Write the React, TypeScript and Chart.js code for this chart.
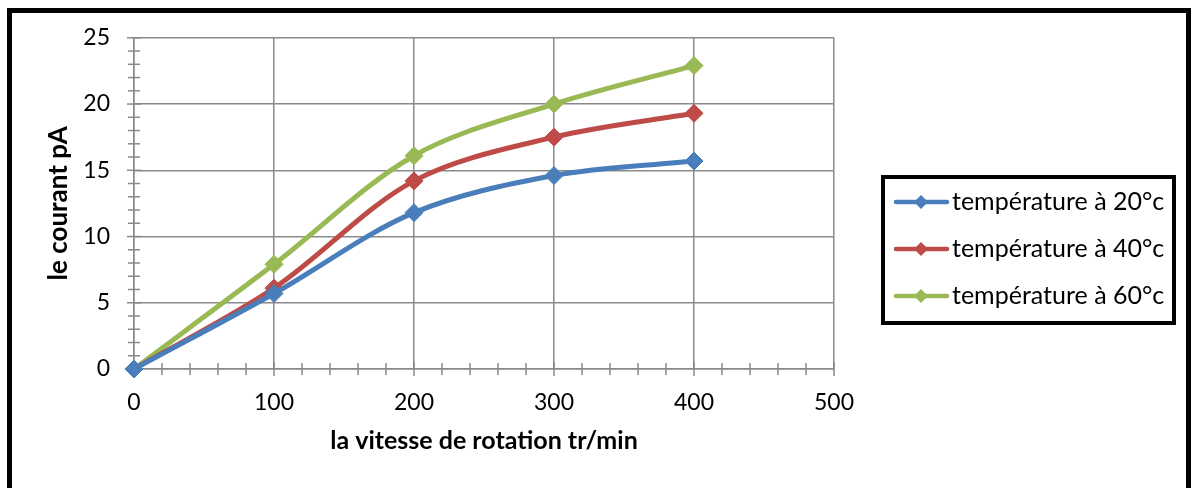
import React, { useEffect, useRef } from "react";
import { Chart, registerables } from "chart.js";

Chart.register(...registerables);

const speeds = [0, 100, 200, 300, 400];
const temp20 = [0, 5.7, 11.8, 14.6, 15.7];
const temp40 = [0, 6.1, 14.2, 17.5, 19.3];
const temp60 = [0, 7.9, 16.1, 20.0, 22.9];
const seriesLabels = ["température à 20°c", "température à 40°c", "température à 60°c"];
const seriesColors = ["#4A7EBB", "#BE4B48", "#98B954"];
const xTitle = "la vitesse de rotation tr/min";
const yTitle = "le courant pA";

const GRID = "#8a8a8a";
const FONT = "Lato";

const crossTicks = {
  id: "crossTicks",
  beforeDatasetsDraw(chart: any) {
    const { ctx, chartArea, scales } = chart;
    const xs = scales.x;
    const ys = scales.y;
    ctx.save();
    ctx.strokeStyle = GRID;
    ctx.lineWidth = 1.5;
    for (let v = 0; v <= 25; v += 1) {
      const y = ys.getPixelForValue(v);
      const l = v % 5 === 0 ? 7 : 6;
      ctx.beginPath();
      ctx.moveTo(chartArea.left - l, y);
      ctx.lineTo(chartArea.left + l, y);
      ctx.stroke();
    }
    for (let v = 0; v <= 500; v += 20) {
      const x = xs.getPixelForValue(v);
      const l = v % 100 === 0 ? 7 : 6;
      ctx.beginPath();
      ctx.moveTo(x, chartArea.bottom - l);
      ctx.lineTo(x, chartArea.bottom + l);
      ctx.stroke();
    }
    ctx.restore();
  },
};

const boxLegend = {
  id: "boxLegend",
  afterDraw(chart: any) {
    const { ctx } = chart;
    const left = 883;
    const top = 177;
    const w = 291;
    const h = 146;
    ctx.save();
    ctx.fillStyle = "#fff";
    ctx.fillRect(left, top, w, h);
    ctx.strokeStyle = "#000";
    ctx.lineWidth = 4;
    ctx.strokeRect(left, top, w, h);
    chart.data.datasets.forEach((ds: any, i: number) => {
      const cy = 202 + i * 47;
      ctx.strokeStyle = ds.borderColor;
      ctx.lineWidth = 4.5;
      ctx.lineCap = "round";
      ctx.beginPath();
      ctx.moveTo(896, cy);
      ctx.lineTo(947, cy);
      ctx.stroke();
      ctx.fillStyle = ds.borderColor;
      const r = 7;
      const cx = 921;
      ctx.beginPath();
      ctx.moveTo(cx - r, cy);
      ctx.lineTo(cx, cy - r);
      ctx.lineTo(cx + r, cy);
      ctx.lineTo(cx, cy + r);
      ctx.closePath();
      ctx.fill();
      ctx.fillStyle = "#000";
      ctx.font = `25px ${FONT}`;
      ctx.textBaseline = "middle";
      ctx.textAlign = "left";
      ctx.fillText(ds.label, 952, cy);
    });
    ctx.restore();
  },
};

export default function App() {
  const ref = useRef<HTMLCanvasElement>(null);
  useEffect(() => {
    let chart: Chart | null = null;
    let cancelled = false;
    const make = () => {
      if (cancelled || !ref.current) return;
      const values = [temp20, temp40, temp60];
      chart = new Chart(ref.current, {
        type: "line",
        data: {
          datasets: values.map((vals, i) => ({
            label: seriesLabels[i],
            data: speeds.map((s, j) => ({ x: s, y: vals[j] })),
            borderColor: seriesColors[i],
            backgroundColor: seriesColors[i],
            pointBackgroundColor: seriesColors[i],
            pointBorderColor: seriesColors[i],
            borderWidth: 5,
            pointStyle: "rectRot",
            pointRadius: 9,
            pointBorderWidth: 1,
            tension: 0.33,
            clip: false,
            fill: false,
          })),
        },
        options: {
          animation: false,
          responsive: false,
          events: [],
          layout: { padding: { left: 0, top: 37.5, right: 358, bottom: 0 } },
          plugins: { legend: { display: false }, tooltip: { enabled: false } },
          scales: {
            x: {
              type: "linear",
              min: 0,
              max: 500,
              afterFit(scale: any) {
                scale.height = 119;
              },
              ticks: {
                stepSize: 20,
                autoSkip: false,
                maxRotation: 0,
                padding: 20,
                color: "#000",
                font: { family: FONT, size: 23 },
                callback: (v: any) => (Number(v) % 100 === 0 ? String(v) : ""),
              },
              grid: {
                drawTicks: false,
                lineWidth: 1.5,
                color: (c: any) =>
                  c.tick && Math.round(c.tick.value) % 100 === 0 ? GRID : "rgba(0,0,0,0)",
              },
              border: { color: GRID, width: 1.5 },
              title: {
                display: true,
                text: xTitle,
                color: "#000",
                font: { family: FONT, size: 25, weight: "bold" },
                padding: { top: 0, bottom: 32 },
              },
            },
            y: {
              type: "linear",
              min: 0,
              max: 25,
              afterFit(scale: any) {
                scale.width = 134;
              },
              ticks: {
                stepSize: 1,
                autoSkip: false,
                padding: 24,
                color: "#000",
                font: { family: FONT, size: 23 },
                callback: (v: any) => (Number(v) % 5 === 0 ? String(v) : ""),
              },
              grid: {
                drawTicks: false,
                lineWidth: 1.5,
                color: (c: any) =>
                  c.tick && Math.round(c.tick.value) % 5 === 0 ? GRID : "rgba(0,0,0,0)",
              },
              border: { color: GRID, width: 1.5 },
              title: {
                display: true,
                text: yTitle,
                color: "#000",
                font: { family: FONT, size: 26, weight: "bold" },
                padding: { top: 43, bottom: 0 },
              },
            },
          },
        },
        plugins: [crossTicks, boxLegend],
      });
    };
    const fontsReady = (document as any).fonts
      ? Promise.all([
          (document as any).fonts.load(`23px ${FONT}`),
          (document as any).fonts.load(`bold 25px ${FONT}`),
        ]).catch(() => null)
      : Promise.resolve(null);
    fontsReady.then(make);
    return () => {
      cancelled = true;
      if (chart) chart.destroy();
    };
  }, []);

  return (
    <div
      style={{
        position: "fixed",
        left: 0,
        top: 0,
        width: 1192,
        height: 488,
        overflow: "hidden",
        background: "#fff",
      }}
    >
      <canvas
        ref={ref}
        width={1192}
        height={488}
        style={{ position: "absolute", left: 0, top: 0, width: 1192, height: 488 }}
      />
      <div
        style={{
          position: "absolute",
          left: 7,
          top: 8,
          width: 1174,
          height: 600,
          border: "5px solid #000",
          pointerEvents: "none",
        }}
      />
    </div>
  );
}
